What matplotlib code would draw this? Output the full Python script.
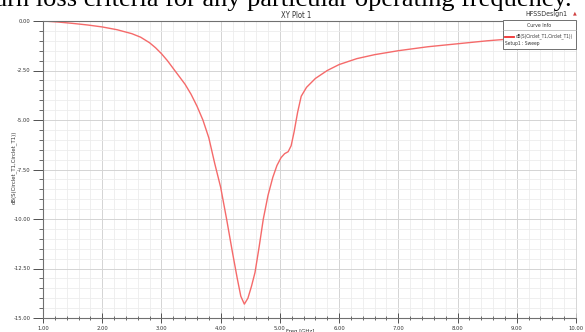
import matplotlib
matplotlib.use("Agg")
import matplotlib.pyplot as plt
from matplotlib.ticker import MultipleLocator, FormatStrFormatter
from matplotlib.lines import Line2D
from matplotlib.patches import Rectangle

freq = [1.0, 1.25, 1.5, 1.75, 2.0, 2.25, 2.5, 2.65, 2.8, 2.9, 3.0, 3.1, 3.2, 3.3, 3.4, 3.5,
        3.6, 3.7, 3.8, 3.9, 4.0, 4.1, 4.2, 4.28, 4.34, 4.40, 4.46, 4.52, 4.58, 4.65, 4.72,
        4.80, 4.88, 4.95, 5.02, 5.08, 5.14, 5.19, 5.24, 5.30, 5.36, 5.45, 5.6, 5.8, 6.0,
        6.3, 6.6, 7.0, 7.5, 8.0, 8.5, 9.0, 9.5, 10.0]
s11_db = [0.0, -0.05, -0.12, -0.2, -0.3, -0.44, -0.64, -0.82, -1.1, -1.35, -1.65, -2.0,
          -2.4, -2.8, -3.2, -3.7, -4.3, -5.0, -5.9, -7.2, -8.4, -10.0, -11.7, -13.0, -13.9,
          -14.3, -14.0, -13.4, -12.7, -11.4, -10.0, -8.8, -7.9, -7.3, -6.9, -6.7, -6.6,
          -6.3, -5.6, -4.6, -3.8, -3.35, -2.9, -2.5, -2.2, -1.9, -1.7, -1.5, -1.3, -1.15,
          -1.0, -0.88, -0.78, -0.7]

title = "XY Plot 1"
design = "HFSSDesign1"
curve_name = "dB(S(Circlet_T1,Circlet_T1))"
setup_name = "Setup1 : Sweep"
y_label = "dB(S(Circlet_T1,Circlet_T1))"
x_label = "Freq [GHz]"
top_text = "urn loss criteria for any particular operating frequency."

small = ['Liberation Sans Narrow', 'DejaVu Sans']
cond = dict(family=small, stretch='condensed')

fig = plt.figure(figsize=(5.85, 3.32), dpi=100)
ax = fig.add_axes([43/585, 1-318/332, (576-43)/585, (318-21)/332])

ax.plot(freq, s11_db, color='#f56a6a', lw=1.0)
ax.set_xlim(1.0, 10.0)
ax.set_ylim(-15.0, 0.0)

ax.xaxis.set_major_locator(MultipleLocator(1.0))
ax.xaxis.set_minor_locator(MultipleLocator(0.2))
ax.yaxis.set_major_locator(MultipleLocator(2.5))
ax.yaxis.set_minor_locator(MultipleLocator(0.5))
ax.xaxis.set_major_formatter(FormatStrFormatter('%.2f'))
ax.yaxis.set_major_formatter(FormatStrFormatter('%.2f'))

ax.grid(which='minor', color='#ececec', lw=0.6)
ax.grid(which='major', color='#d4d4d4', lw=0.7)
ax.set_axisbelow(True)

ax.tick_params(which='major', length=7, width=0.7, color='#505050', labelsize=4.2,
               pad=2, labelcolor='#333333')
ax.tick_params(which='minor', length=3, width=0.6, color='#505050')
ax.tick_params(axis='x', which='both', direction='inout')
for lab in ax.get_xticklabels() + ax.get_yticklabels():
    lab.set_family(small)
    lab.set_stretch('condensed')

for side in ['left', 'bottom', 'top']:
    ax.spines[side].set_color('#707070')
    ax.spines[side].set_linewidth(0.8)
ax.spines['right'].set_color('#d0d0d0')
ax.spines['right'].set_linewidth(0.6)

fig.text(296/585, 1-15/332, title, ha='center', va='center', fontsize=5.5,
         color='#333333', **cond)
fig.text(568/585, 1-14/332, design, ha='right', va='center', fontsize=5,
         color='#333333', **cond)
fig.text(573/585, 1-13/332, "\u25b2", ha='left', va='center', fontsize=3.5,
         color='#d04040')
fig.text(-6/585, 1-6/332, top_text, ha='left', va='baseline', fontsize=19,
         family=['Liberation Serif', 'DejaVu Serif'], color='black')

fig.text(14/585, 1-167/332, y_label, rotation=90, ha='center', va='center',
         fontsize=4.3, color='#333333', **cond)
fig.text(300/585, 1-331/332, x_label, ha='center', va='center', fontsize=4.3,
         color='#333333', **cond)

# legend box
bx0, by0, bx1, by1 = 503, 20, 576, 49
fig.patches.append(Rectangle((bx0/585, 1-by1/332), (bx1-bx0)/585, (by1-by0)/332,
                             transform=fig.transFigure, facecolor='white',
                             edgecolor='#707070', lw=0.7, zorder=5))
fig.lines.append(Line2D([bx0/585, bx1/585], [1-30/332, 1-30/332], transform=fig.transFigure,
                        color='#b0b0b0', lw=0.5, zorder=6))
fig.text((bx0+bx1)/2/585, 1-25.5/332, "Curve Info", ha='center', va='center', fontsize=3.8,
         color='#333333', zorder=7, **cond)
fig.lines.append(Line2D([505/585, 514/585], [1-36.5/332, 1-36.5/332], transform=fig.transFigure,
                        color='#f03030', lw=1.3, zorder=6))
fig.text(516/585, 1-36.5/332, curve_name, ha='left', va='center', fontsize=3.3,
         color='#333333', zorder=7, **cond)
fig.text(505/585, 1-43.5/332, setup_name, ha='left', va='center', fontsize=3.5,
         color='#333333', zorder=7, **cond)

fig.savefig('out.png', dpi=100)
